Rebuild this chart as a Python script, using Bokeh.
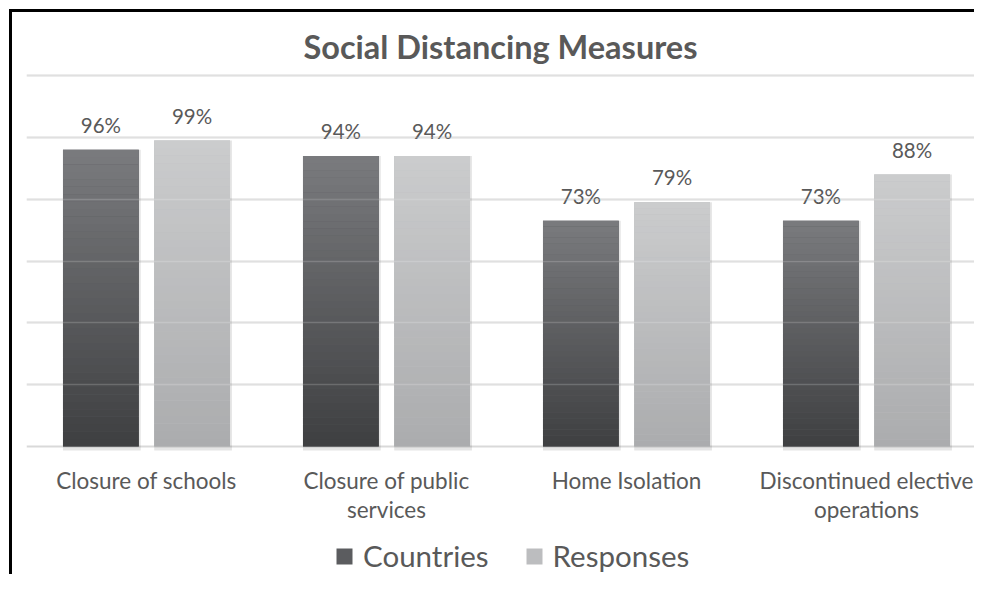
from bokeh.plotting import figure
from bokeh.models import (ColumnDataSource, Range1d, FixedTicker, LabelSet, Legend,
                          LegendItem, Grid)
from bokeh.embed import file_html
from bokeh.resources import INLINE
from bokeh.core.properties import value
from bokeh.transform import dodge

# ---------------- data ----------------
categories = ["Closure of schools", "Closure of public services",
              "Home Isolation", "Discontinued elective operations"]
category_line1 = ["Closure of schools", "Closure of public",
                  "Home Isolation", "Discontinued elective"]
category_line2 = ["", "services", "", "operations"]
countries = [96, 94, 73, 73]
responses = [99, 94, 79, 88]
series_names = ["Countries", "Responses"]
grid_ticks = [0, 20, 40, 60, 80, 100, 120]
title_text = "Social Distancing Measures"

# ---------------- style ----------------
FONT = "Lato"
TEXT = "#595959"
GRID = "#d9d9d9"
GRAD = {  # (bottom, top)
    "Countries": ("#3e3f41", "#7a7b7e"),
    "Responses": ("#abacae", "#cbcccd"),
}
MID = {"Countries": "#5b5c5f", "Responses": "#bcbdbf"}
OFFSETS = {"Countries": -0.19, "Responses": 0.19}
BAR_W = 0.316
N_SLICES = 40

W, H = 974, 574

# the frame reaches the bottom of the canvas so that the legend and the
# category labels (drawn below the zero line) are not clipped
p = figure(width=W, height=H, output_backend="svg", toolbar_location=None,
           x_range=Range1d(0, 3.95), y_range=Range1d(-41.4, 121),
           min_border_left=26, min_border_right=0, min_border_top=72,
           min_border_bottom=0)
# black frame lines (top and left) painted behind the transparent canvas border
p.styles = {
    "background": ("linear-gradient(#000,#000) 9px 9px / 3px calc(100% - 9px) no-repeat, "
                   "linear-gradient(#000,#000) 9px 9px / calc(100% - 9px) 3px no-repeat, #fff")
}
p.outline_line_color = None
p.background_fill_color = "white"
p.border_fill_alpha = 0

xs = [i + 0.5 for i in range(len(categories))]


def hex2rgb(h):
    h = h.lstrip("#")
    return tuple(int(h[i:i + 2], 16) for i in (0, 2, 4))


def mix(c0, c1, t):
    a, b = hex2rgb(c0), hex2rgb(c1)
    return "#%02x%02x%02x" % tuple(round(a[i] + (b[i] - a[i]) * t) for i in range(3))


# grid
p.xgrid.visible = False
p.ygrid.ticker = FixedTicker(ticks=grid_ticks)
p.ygrid.grid_line_color = GRID
p.ygrid.grid_line_width = 2

legend_items = []
for name, vals in zip(series_names, [countries, responses]):
    off = OFFSETS[name]
    src = ColumnDataSource(dict(x=xs, v=vals, label=[f"{v}%" for v in vals]))
    # soft shadow
    p.vbar(x=dodge("x", off + 0.004), bottom=-1.3, top="v", width=BAR_W + 0.008,
           source=src, fill_color="black", fill_alpha=0.10, line_color=None)
    # base bar (legend)
    r = p.vbar(x=dodge("x", off), bottom=0, top="v", width=BAR_W, source=src,
               fill_color=MID[name], line_color=None)
    legend_items.append(LegendItem(label=name, renderers=[r]))
    # gradient slices
    gx, gb, gt, gc = [], [], [], []
    c_bot, c_top = GRAD[name]
    for k in range(N_SLICES):
        for x, v in zip(xs, vals):
            gx.append(x)
            gb.append(v * k / N_SLICES)
            gt.append(v * (k + 1.02) / N_SLICES if k < N_SLICES - 1 else v)
            gc.append(mix(c_bot, c_top, (k + 0.5) / N_SLICES))
    gsrc = ColumnDataSource(dict(x=gx, b=gb, t=gt, c=gc))
    p.vbar(x=dodge("x", off), bottom="b", top="t", width=BAR_W, source=gsrc,
           fill_color="c", line_color=None)
    # value labels
    p.add_layout(LabelSet(x=dodge("x", off), y="v", text="label", source=src,
                          y_offset=25, text_align="center", text_baseline="middle",
                          text_font=value(FONT), text_font_size="20.5px",
                          text_color=TEXT))

# faint grid over bars
over = Grid(dimension=1, ticker=FixedTicker(ticks=grid_ticks[1:]), level="overlay",
            grid_line_color="white", grid_line_alpha=0.18, grid_line_width=1.5)
p.add_layout(over)

# axes: hidden, category names drawn as centred label rows under the zero line
p.xaxis.visible = False
p.yaxis.visible = False
for lines, off_px in ((category_line1, -34), (category_line2, -63)):
    cat_src = ColumnDataSource(dict(x=xs, y=[0] * len(xs), text=lines))
    p.add_layout(LabelSet(x="x", y="y", text="text", source=cat_src, y_offset=off_px,
                          text_align="center", text_baseline="middle",
                          text_font=value(FONT), text_font_size="22.5px",
                          text_color=TEXT))

# title
p.title.text = title_text
p.title.align = "center"
p.title.text_font = FONT
p.title.text_font_style = "bold"
p.title.text_font_size = "32.5px"
p.title.text_color = TEXT
p.title.standoff = 14

# legend
legend = Legend(items=legend_items, orientation="horizontal", location=(308, 1),
                glyph_width=20, glyph_height=20, label_standoff=9, spacing=35,
                padding=0, margin=0, background_fill_alpha=0, border_line_color=None,
                label_text_font=FONT, label_text_font_size="29.5px",
                label_text_color=TEXT, label_height=20)
p.add_layout(legend, "center")

open("out.html", "w").write(file_html(p, INLINE))
